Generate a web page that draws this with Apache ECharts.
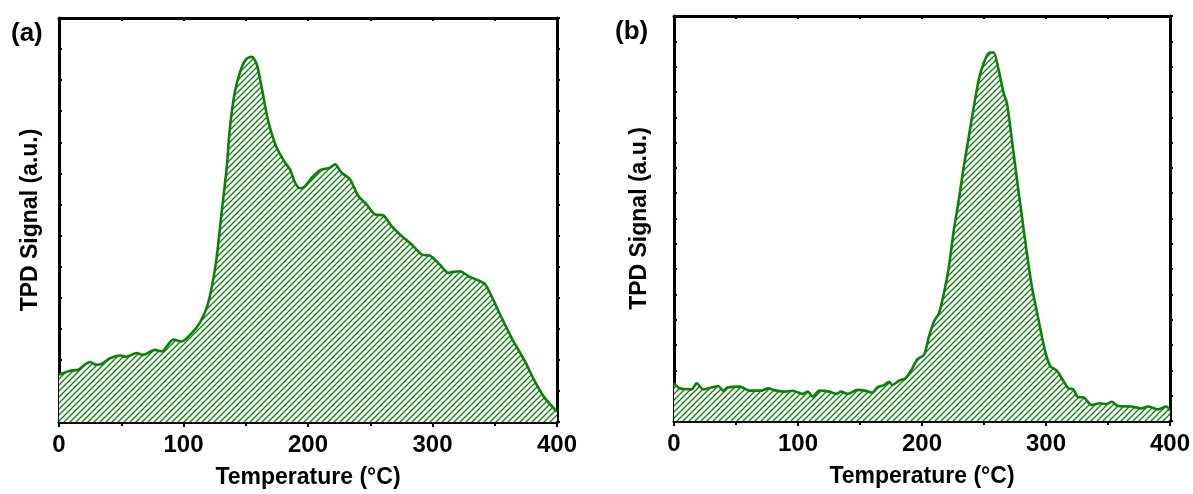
<!DOCTYPE html>
<html>
<head>
<meta charset="utf-8">
<script src="https://cdn.jsdelivr.net/npm/echarts@6/dist/echarts.min.js"></script>
<style>
  html, body { margin: 0; padding: 0; background: #fff; }
  #chart { width: 1193px; height: 494px; }
</style>
</head>
<body>
<div id="chart"></div>
<script>
// ---------- data ----------
const xTickValues = [0, 100, 200, 300, 400];
const panelLabels = ['(a)', '(b)'];
const xAxisTitle = 'Temperature (°C)';
const yAxisTitle = 'TPD Signal (a.u.)';

// Panel (a): temperature (°C) and TPD signal (a.u.)
const tempA = [0, 9, 15.5, 19.5, 25, 30, 34, 41, 49, 54, 62.4, 67.5, 77, 82.5, 91.8, 98.5, 106.6, 113, 118.6, 122.6,
  126.6, 130.7, 134.7, 137.3, 141.4, 146.7, 150.5, 154.8, 158.8, 162.8, 168, 174.8, 181.5, 185.5, 189.6, 193.6, 197.6,
  203, 209.6, 217.7, 221.7, 227, 233.7, 240.4, 247, 253.8, 260.5, 267.2, 275.3, 283.3, 291.3, 298, 306, 312.7,
  316.7, 322, 328.8, 335.5, 342.2, 347.5, 355.6, 363.6, 374.3, 382.3, 390.4, 400];
const sigA = [1.52, 1.65, 1.68, 1.81, 1.93, 1.84, 1.86, 2.05, 2.14, 2.10, 2.22, 2.16, 2.32, 2.27, 2.65, 2.59, 2.86, 3.18, 3.67, 4.31,
  5.28, 6.77, 8.18, 9.47, 10.65, 11.41, 11.68, 11.75, 11.52, 10.76, 9.69, 8.83, 8.35, 8.13, 7.70, 7.52, 7.59,
  7.86, 8.10, 8.18, 8.29, 8.02, 7.81, 7.27, 7.00, 6.68, 6.65, 6.30, 5.98, 5.71, 5.39, 5.35, 5.06, 4.80,
  4.83, 4.85, 4.69, 4.58, 4.44, 4.04, 3.35, 2.70, 1.95, 1.30, 0.76, 0.33];

// Panel (b): temperature (°C) and TPD signal (a.u.)
const tempB = [0, 4.8, 14.2, 18.2, 23.6, 35.6, 39.6, 43.6, 53, 61, 70.4, 75.8, 82.5, 89.2, 95.8, 103.9, 107.9, 111.9,
  117.3, 125.3, 130.7, 134.7, 140, 148, 154.7, 160, 164, 169.5, 173.5, 176, 181.5, 186.9, 192.2, 196.2, 201.6,
  205.6, 209.6, 213.7, 217.7, 221.7, 225.7, 229.7, 233.7, 237.8, 241.8, 245.8, 249.8, 254.4, 257.8, 261.8, 265.9,
  268.5, 272.5, 276.6, 280.6, 284.6, 288.6, 294, 299.4, 303.4, 308.7, 312.7, 318.1, 322, 326.1, 330, 336.8, 343.5,
  348.8, 352.9, 358.2, 368.9, 377, 382.3, 390.4, 397, 400];
const sigB = [1.49, 1.29, 1.25, 1.49, 1.25, 1.38, 1.20, 1.33, 1.36, 1.20, 1.20, 1.29, 1.20, 1.16, 1.19, 1.07, 1.16, 0.96,
  1.20, 1.16, 1.07, 1.16, 1.07, 1.23, 1.19, 1.12, 1.33, 1.42, 1.55, 1.42, 1.59, 1.69, 2.08, 2.44, 2.61,
  3.33, 3.92, 4.26, 5.05, 6.10, 7.55, 8.74, 10.05, 11.24, 12.42, 13.48, 14.14, 14.56, 14.56, 13.87, 12.95,
  12.56, 11.11, 9.53, 8.08, 6.63, 5.31, 3.99, 2.74, 2.17, 1.99, 1.69, 1.29, 1.25, 0.94, 0.94, 0.63, 0.70,
  0.67, 0.76, 0.59, 0.57, 0.50, 0.57, 0.46, 0.57, 0.41];

const yMaxA = 13;
const yMaxB = 16;

// ---------- styling ----------
const GREEN = '#0b800b';
const FONT = "'Liberation Sans', Arial, sans-serif";

function hatchPattern() {
  const s = 6;
  const c = document.createElement('canvas');
  c.width = s; c.height = s;
  const g = c.getContext('2d');
  g.fillStyle = '#ffffff';
  g.fillRect(0, 0, s, s);
  g.strokeStyle = GREEN;
  g.lineWidth = 1.3;
  g.beginPath();
  g.moveTo(-1, s + 1); g.lineTo(s + 1, -1);
  g.moveTo(-1, 1); g.lineTo(1, -1);
  g.moveTo(s - 1, s + 1); g.lineTo(s + 1, s - 1);
  g.stroke();
  return { image: c, repeat: 'repeat' };
}
const pattern = hatchPattern();

const axisLineStyle = { show: true, onZero: false, lineStyle: { color: '#000', width: 3 } };

function bottomAxis(gridIndex) {
  return {
    type: 'value', gridIndex, position: 'bottom',
    min: xTickValues[0], max: xTickValues[xTickValues.length - 1],
    interval: xTickValues[1] - xTickValues[0],
    axisLine: axisLineStyle,
    axisTick: { show: true, inside: false, length: 5, lineStyle: { color: '#000', width: 2 } },
    minorTick: { show: true, splitNumber: 2, length: 4, lineStyle: { color: '#000', width: 2 } },
    splitLine: { show: false },
    axisLabel: { show: true, margin: 11, color: '#000', fontFamily: FONT, fontWeight: 'bold', fontSize: 24 },
    name: xAxisTitle, nameLocation: 'middle', nameGap: 44,
    nameTextStyle: { color: '#000', fontFamily: FONT, fontWeight: 'bold', fontSize: 23 }
  };
}
function topAxis(gridIndex) {
  return {
    type: 'value', gridIndex, position: 'top',
    min: xTickValues[0], max: xTickValues[xTickValues.length - 1],
    interval: (xTickValues[1] - xTickValues[0]) / 2,
    axisLine: axisLineStyle,
    axisTick: { show: true, inside: true, length: 3, lineStyle: { color: '#000', width: 2 } },
    splitLine: { show: false }, axisLabel: { show: false }
  };
}
function leftAxis(gridIndex, max, gap) {
  return {
    type: 'value', gridIndex, position: 'left', min: 0, max: max, interval: 1,
    axisLine: axisLineStyle,
    axisTick: { show: true, inside: true, length: 3, lineStyle: { color: '#000', width: 2 } },
    splitLine: { show: false }, axisLabel: { show: false },
    name: yAxisTitle, nameLocation: 'middle', nameGap: gap, nameRotate: 90,
    nameTextStyle: { color: '#000', fontFamily: FONT, fontWeight: 'bold', fontSize: 23 }
  };
}
function rightAxis(gridIndex, max) {
  return {
    type: 'value', gridIndex, position: 'right', min: 0, max: max, interval: 1,
    axisLine: axisLineStyle,
    axisTick: { show: true, inside: false, length: 3, lineStyle: { color: '#000', width: 2 } },
    splitLine: { show: false }, axisLabel: { show: false }
  };
}
function seriesFor(idx, temps, sig) {
  return {
    type: 'line', xAxisIndex: idx * 2, yAxisIndex: idx * 2,
    data: temps.map((t, i) => [t, sig[i]]),
    showSymbol: false, smooth: 0.25,
    lineStyle: { color: GREEN, width: 2.6 },
    areaStyle: { color: pattern, opacity: 1, origin: 'start' },
    silent: true, animation: false
  };
}

const chart = echarts.init(document.getElementById('chart'), null, { renderer: 'canvas' });
chart.setOption({
  backgroundColor: '#ffffff',
  animation: false,
  grid: [
    { left: 59, top: 18, width: 498, height: 404 },
    { left: 674, top: 16, width: 498, height: 405 }
  ],
  xAxis: [bottomAxis(0), topAxis(0), bottomAxis(1), topAxis(1)],
  yAxis: [leftAxis(0, yMaxA, 17), rightAxis(0, yMaxA), leftAxis(1, yMaxB, 23), rightAxis(1, yMaxB)],
  series: [seriesFor(0, tempA, sigA), seriesFor(1, tempB, sigB)],
  graphic: [
    { type: 'text', left: 11, top: 21, style: { text: panelLabels[0], fill: '#000', font: "bold 26px 'Liberation Sans', Arial, sans-serif" } },
    { type: 'text', left: 615, top: 19, style: { text: panelLabels[1], fill: '#000', font: "bold 26px 'Liberation Sans', Arial, sans-serif" } }
  ]
});
</script>
</body>
</html>
